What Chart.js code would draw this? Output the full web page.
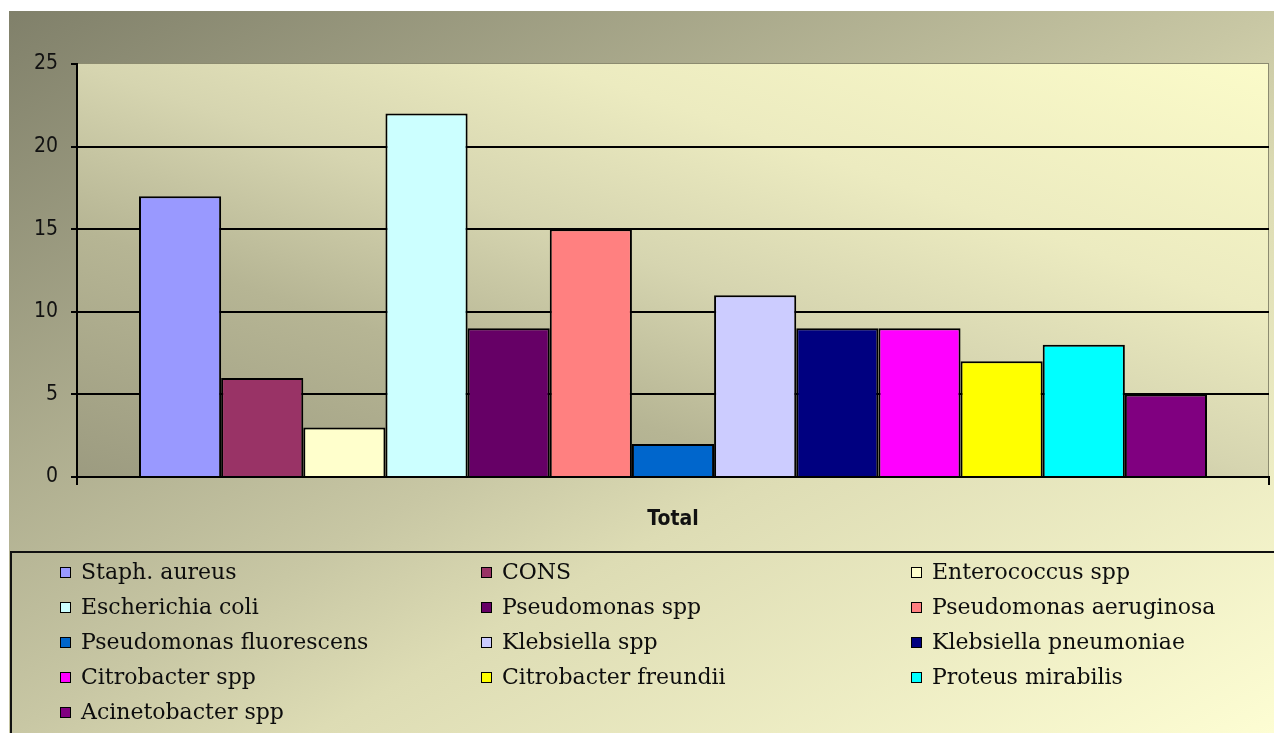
<!DOCTYPE html>
<html>
<head>
<meta charset="utf-8">
<title>Total</title>
<script src="https://cdn.jsdelivr.net/npm/chart.js@4.4.1/dist/chart.umd.min.js"></script>
<style>
  html, body { margin: 0; padding: 0; background: #fff; overflow: hidden; }
  #wrap { position: relative; width: 1274px; height: 733px; }
</style>
</head>
<body>
<div id="wrap"><canvas id="totalChart"></canvas></div>
<script>
// chart data
var categories = ['Total'];
var seriesNames = [
    'Staph. aureus', 'CONS', 'Enterococcus spp',
    'Escherichia coli', 'Pseudomonas spp', 'Pseudomonas aeruginosa',
    'Pseudomonas fluorescens', 'Klebsiella spp', 'Klebsiella pneumoniae',
    'Citrobacter spp', 'Citrobacter freundii', 'Proteus mirabilis',
    'Acinetobacter spp'
];
var seriesValues = [17, 6, 3, 22, 9, 15, 2, 11, 9, 9, 7, 8, 5];
var seriesColors = [
    '#9999ff', '#993366', '#ffffcc',
    '#ccffff', '#660066', '#ff8080',
    '#0066cc', '#ccccff', '#000080',
    '#ff00ff', '#ffff00', '#00ffff',
    '#800080'
];
var yMin = 0, yMax = 25, yStep = 5;

var axisFont = '"Liberation Sans Narrow", "DejaVu Sans Condensed", "DejaVu Sans", sans-serif';

// gradient running corner to corner (works on non-square boxes)
function cornerGradient(ctx, x, y, w, h, fromBottom, stops) {
    var k = 2 * w * h / (w * w + h * h);
    var g;
    if (fromBottom) {
        g = ctx.createLinearGradient(x, y + h, x + h * k, y + h - w * k);
    } else {
        g = ctx.createLinearGradient(x, y, x + h * k, y + w * k);
    }
    stops.forEach(function(s) { g.addColorStop(s[0], s[1]); });
    return g;
}

var backdrop = {
    id: 'backdrop',
    beforeDraw: function(chart) {
        var ctx = chart.ctx, a = chart.chartArea;
        ctx.save();
        ctx.fillStyle = '#fff';
        ctx.fillRect(0, 0, chart.width, chart.height);
        ctx.fillStyle = cornerGradient(ctx, 9, 11, chart.width - 9, chart.height - 11, false,
            [[0, '#80806a'], [0.5, '#c8c7a4'], [0.62, '#dddcb4'], [1, '#fdfdd3']]);
        ctx.fillRect(9, 11, chart.width - 9, chart.height - 11);
        ctx.fillStyle = cornerGradient(ctx, a.left, a.top, a.width, a.height, true,
            [[0, '#9c9b80'], [0.3, '#b6b594'], [0.5, '#d6d5b0'], [0.7, '#ecebc0'], [1, '#fbfbc9']]);
        ctx.fillRect(a.left, a.top, a.width, a.height);
        ctx.strokeStyle = '#8c8b70';
        ctx.lineWidth = 1;
        ctx.strokeRect(a.left + 0.5, a.top - 0.5, a.width - 1, a.height);
        ctx.restore();
    }
};

// legend box below the plot, 3 columns
var boxLegend = {
    id: 'boxLegend',
    afterDraw: function(chart) {
        var ctx = chart.ctx;
        var cols = [60, 481, 911], top = 572, step = 35;
        ctx.save();
        ctx.strokeStyle = '#111';
        ctx.lineWidth = 2;
        ctx.beginPath();
        ctx.moveTo(11, chart.height + 2);
        ctx.lineTo(11, 552);
        ctx.lineTo(chart.width + 2, 552);
        ctx.stroke();
        ctx.font = '22px "DejaVu Serif", serif';
        ctx.textBaseline = 'middle';
        chart.data.datasets.forEach(function(ds, i) {
            var x = cols[i % 3], y = top + step * Math.floor(i / 3);
            ctx.fillStyle = ds.backgroundColor;
            ctx.fillRect(x, y - 5, 11, 11);
            ctx.strokeStyle = '#000';
            ctx.lineWidth = 1;
            ctx.strokeRect(x + 0.5, y - 4.5, 10, 10);
            ctx.fillStyle = '#0d0d0d';
            ctx.fillText(ds.label, x + 21, y + 1);
        });
        ctx.restore();
    }
};

var ctx1 = document.getElementById('totalChart').getContext('2d');
new Chart(ctx1, {
    type: 'bar',
    data: {
        labels: categories,
        datasets: seriesNames.map(function(name, i) {
            return {
                label: name,
                data: [seriesValues[i]],
                backgroundColor: seriesColors[i],
                borderColor: '#000',
                borderWidth: 2,
                categoryPercentage: 0.896,
                barPercentage: 1
            };
        })
    },
    options: {
        responsive: true,
        maintainAspectRatio: false,
        animation: false,
        layout: { padding: { left: 0, top: 64, right: 5, bottom: 186 } },
        scales: {
            x: {
                offset: true,
                grid: { drawOnChartArea: false, drawTicks: true, tickLength: 8, color: '#000', lineWidth: 2 },
                border: { display: true, color: '#000', width: 2 },
                ticks: { color: '#111', padding: 22, font: { family: axisFont, size: 21, weight: 'bold' } },
                afterFit: function(s) { s.height = 70; s.paddingLeft = 0; s.paddingRight = 0; }
            },
            y: {
                min: yMin,
                max: yMax,
                ticks: { stepSize: yStep, padding: 13, color: '#111', font: { family: axisFont, size: 21 } },
                grid: {
                    color: function(c) { return c.tick && c.tick.value === yMax ? 'rgba(0,0,0,0)' : '#000'; },
                    tickColor: '#000',
                    lineWidth: 2,
                    tickLength: 6
                },
                border: { display: true, color: '#000', width: 2 },
                afterFit: function(s) { s.width = 77; s.paddingTop = 0; s.paddingBottom = 0; }
            }
        },
        plugins: {
            legend: { display: false },
            tooltip: { enabled: false }
        }
    },
    plugins: [backdrop, boxLegend]
});
</script>
</body>
</html>
